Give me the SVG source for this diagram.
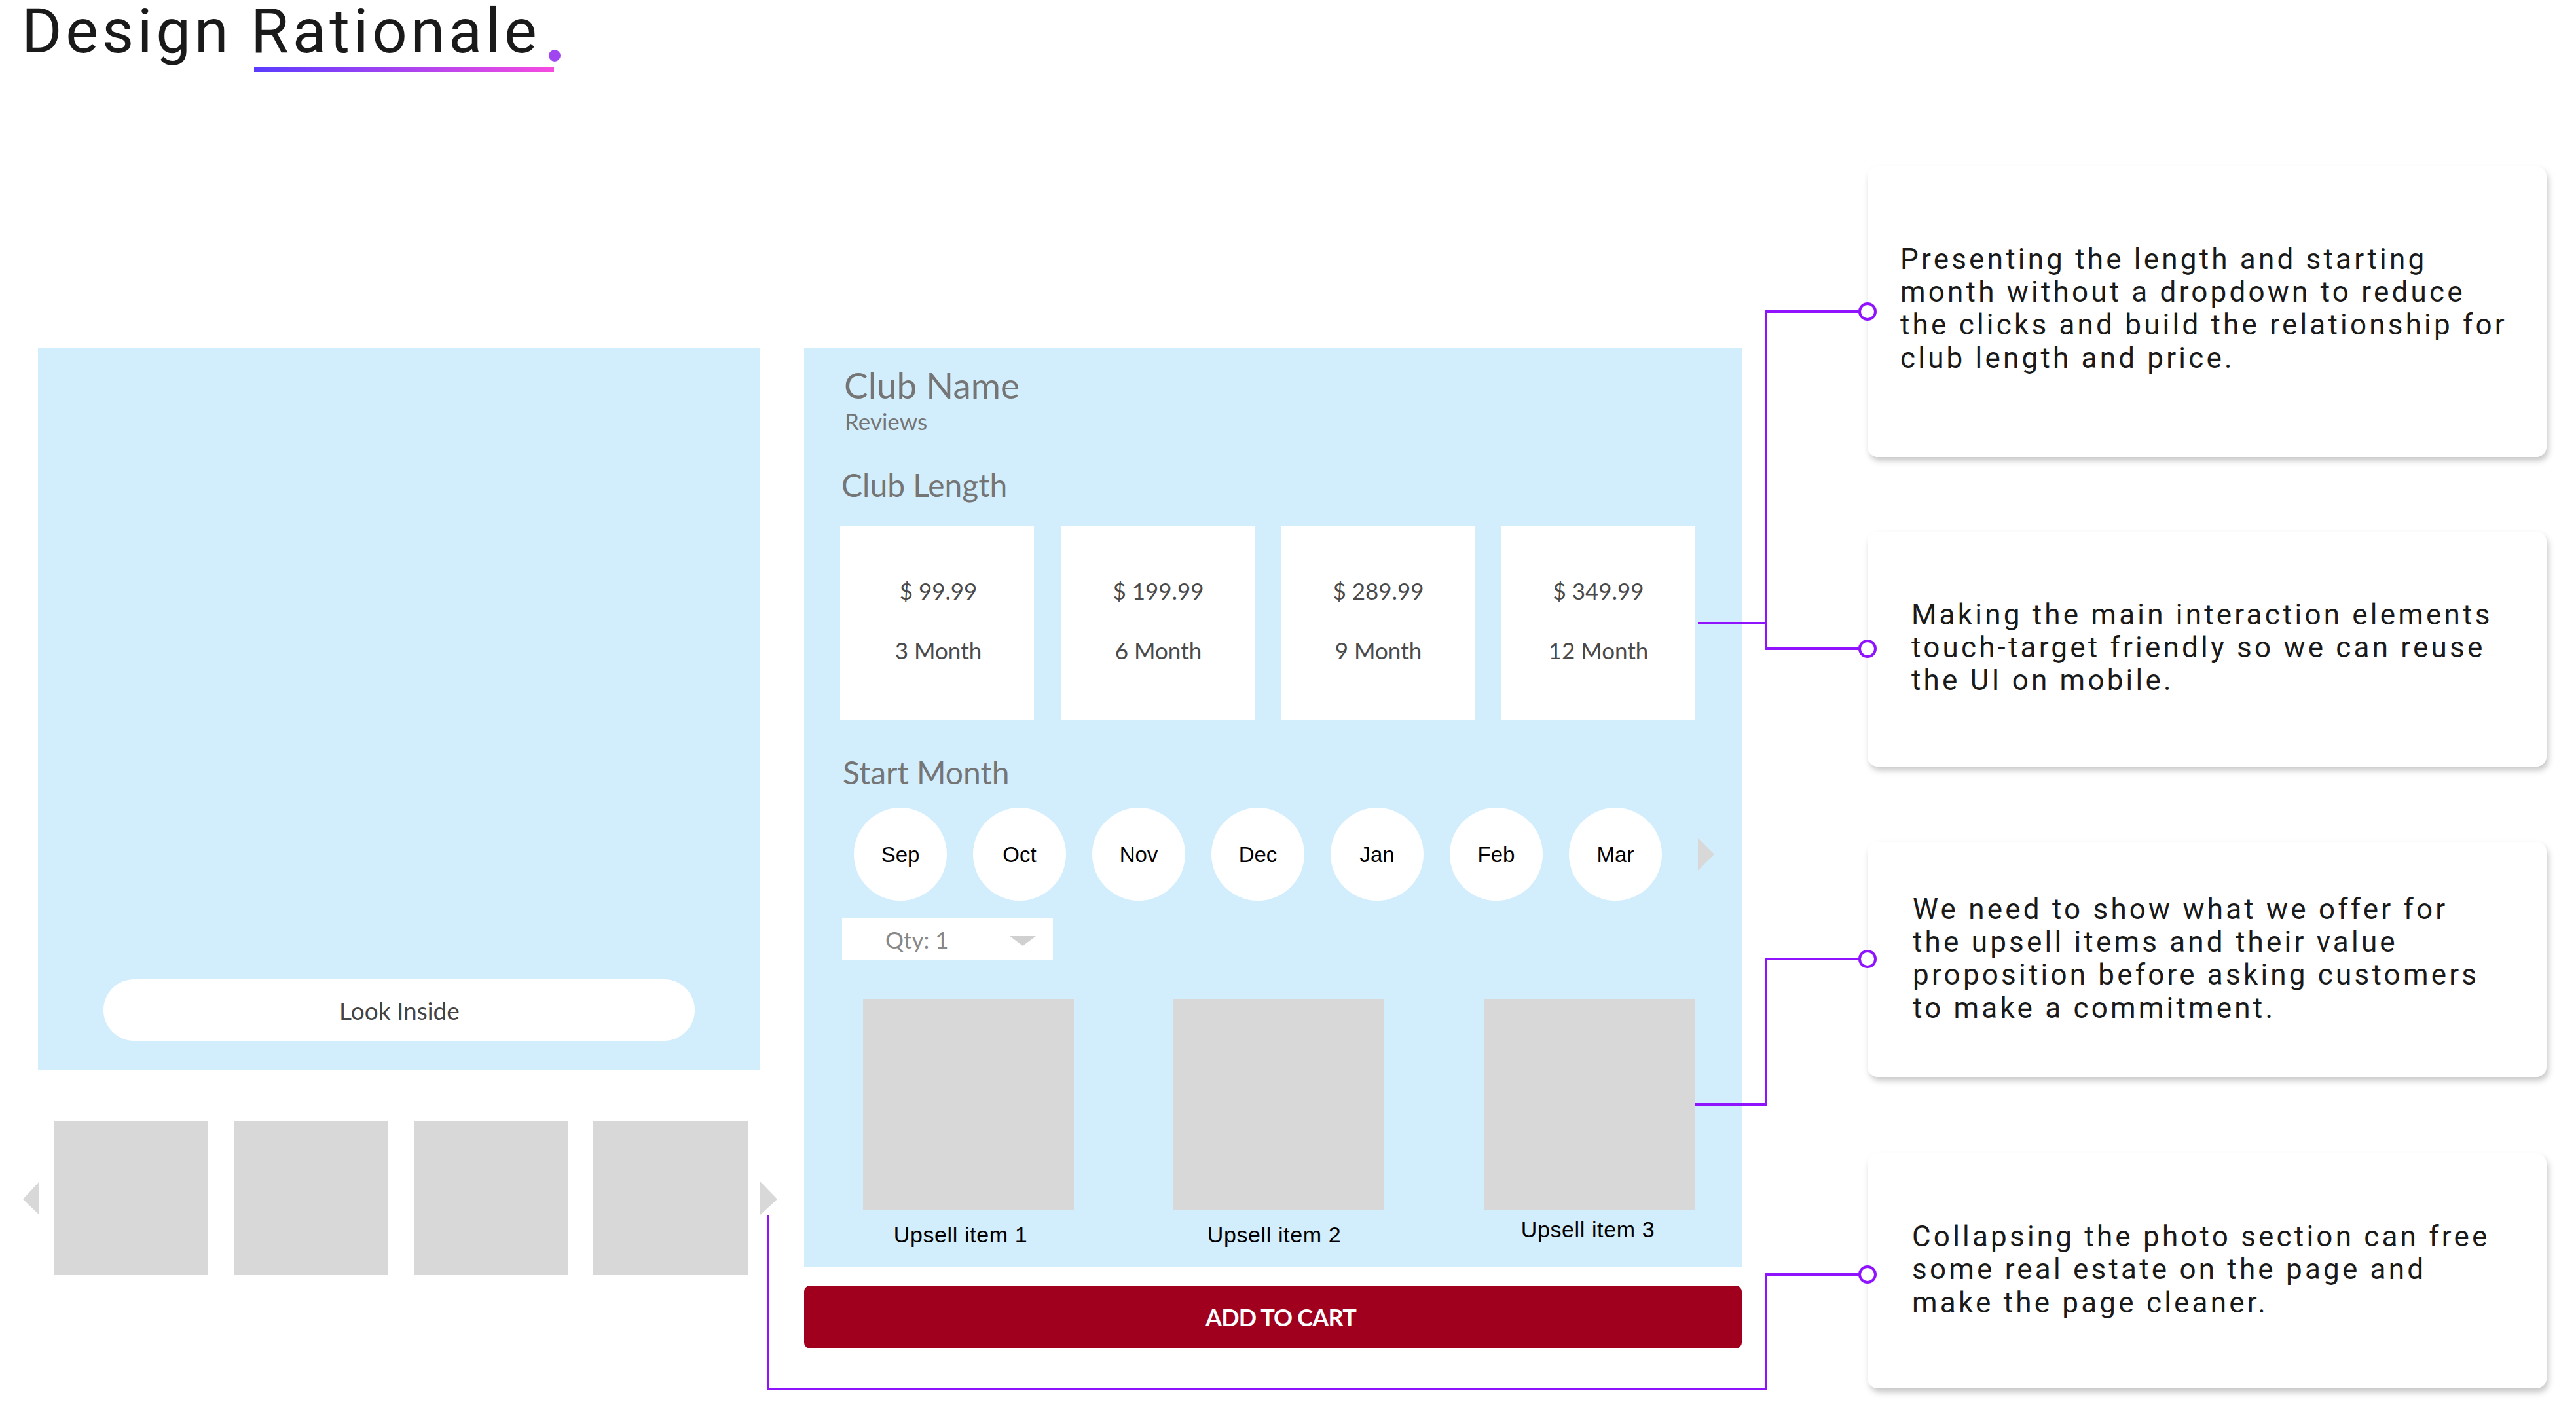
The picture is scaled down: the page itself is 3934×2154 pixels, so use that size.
<svg xmlns="http://www.w3.org/2000/svg" width="3934" height="2154" viewBox="0 0 3934 2154">
<defs>
<linearGradient id="ul" x1="0" y1="0" x2="1" y2="0">
<stop offset="0" stop-color="#5a3cff"/>
<stop offset="1" stop-color="#f64be0"/>
</linearGradient>
<filter id="sh" x="-5%" y="-5%" width="112%" height="115%">
<feDropShadow dx="3" dy="6" stdDeviation="5" flood-color="#000" flood-opacity="0.22"/>
</filter>
<style>
.bg{fill:#d2eefd}
.wh{fill:#ffffff}
.gr{fill:#d8d8d8}
.lato{font-family:Lato,"Liberation Sans",sans-serif}
.h1{font-size:55px;fill:#757575}
.h2{font-size:48px;fill:#757575}
.sub{font-size:35px;fill:#757575}
.price{font-size:35px;fill:#4a4a4a;text-anchor:middle}
.mon{font-family:"Liberation Sans",Arial,sans-serif;font-size:33px;fill:#000;text-anchor:middle}
.up{font-family:"Liberation Sans",Arial,sans-serif;font-size:34px;fill:#000;text-anchor:middle;letter-spacing:0.6px}
.note{font-family:Roboto,"Liberation Sans",sans-serif;font-size:44px;fill:#1a1a1a;letter-spacing:4.2px}
.con{fill:none;stroke:#9013fe;stroke-width:4}
.dot{fill:#fff;stroke:#9013fe;stroke-width:4}
</style>
</defs>
<rect width="3934" height="2154" fill="#fff"/>

<g id="title">
<text x="33" y="80" font-family="Roboto,'Liberation Sans',sans-serif" font-size="94" fill="#1a1a1a" letter-spacing="5.6">Design Rationale</text>
<circle cx="847" cy="85" r="9" fill="#a046f0"/>
<rect x="388" y="102" width="458" height="8" fill="url(#ul)"/>
</g>

<g id="photo-panel">
<rect class="bg" x="58" y="532" width="1103" height="1103"/>
<rect class="wh" x="158" y="1496" width="903" height="94" rx="47"/>
<text class="lato" x="610" y="1558" font-size="37" fill="#444" text-anchor="middle">Look Inside</text>
</g>

<g id="thumbnails">
<rect class="gr" x="82" y="1712" width="236" height="236"/>
<rect class="gr" x="357" y="1712" width="236" height="236"/>
<rect class="gr" x="632" y="1712" width="236" height="236"/>
<rect class="gr" x="906" y="1712" width="236" height="236"/>
<polygon class="gr" points="60,1805 60,1856 35,1832"/>
<polygon class="gr" points="1161,1805 1161,1856 1187,1832"/>
</g>

<g id="product-panel">
<rect class="bg" x="1228" y="532" width="1432" height="1404"/>
<text class="lato h1" x="1289" y="609">Club Name</text>
<text class="lato sub" x="1290" y="657">Reviews</text>
<text class="lato h2" x="1285" y="759">Club Length</text>
</g>

<g id="club-length">
<rect class="wh" x="1283" y="804" width="296" height="296"/>
<rect class="wh" x="1620" y="804" width="296" height="296"/>
<rect class="wh" x="1956" y="804" width="296" height="296"/>
<rect class="wh" x="2292" y="804" width="296" height="296"/>
<text class="lato price" x="1433" y="916">$ 99.99</text>
<text class="lato price" x="1433" y="1007">3 Month</text>
<text class="lato price" x="1769" y="916">$ 199.99</text>
<text class="lato price" x="1769" y="1007">6 Month</text>
<text class="lato price" x="2105" y="916">$ 289.99</text>
<text class="lato price" x="2105" y="1007">9 Month</text>
<text class="lato price" x="2441" y="916">$ 349.99</text>
<text class="lato price" x="2441" y="1007">12 Month</text>
</g>

<g id="start-month">
<text class="lato h2" x="1287" y="1198">Start Month</text>
<circle class="wh" cx="1375" cy="1305" r="71"/>
<circle class="wh" cx="1557" cy="1305" r="71"/>
<circle class="wh" cx="1739" cy="1305" r="71"/>
<circle class="wh" cx="1921" cy="1305" r="71"/>
<circle class="wh" cx="2103" cy="1305" r="71"/>
<circle class="wh" cx="2285" cy="1305" r="71"/>
<circle class="wh" cx="2467" cy="1305" r="71"/>
<text class="mon" x="1375" y="1317">Sep</text>
<text class="mon" x="1557" y="1317">Oct</text>
<text class="mon" x="1739" y="1317">Nov</text>
<text class="mon" x="1921" y="1317">Dec</text>
<text class="mon" x="2103" y="1317">Jan</text>
<text class="mon" x="2285" y="1317">Feb</text>
<text class="mon" x="2467" y="1317">Mar</text>
<polygon class="gr" points="2593,1280 2618,1305 2593,1330"/>
</g>

<g id="qty">
<rect class="wh" x="1286" y="1402" width="322" height="65"/>
<text class="lato" x="1352" y="1449" font-size="35" fill="#888">Qty: 1</text>
<polygon points="1542,1430 1582,1430 1562,1445" fill="#d0d0d0"/>
</g>

<g id="upsell">
<rect class="gr" x="1318" y="1526" width="322" height="322"/>
<rect class="gr" x="1792" y="1526" width="322" height="322"/>
<rect class="gr" x="2266" y="1526" width="322" height="322"/>
<text class="up" x="1467" y="1898">Upsell item 1</text>
<text class="up" x="1946" y="1898">Upsell item 2</text>
<text class="up" x="2425" y="1890">Upsell item 3</text>
</g>

<g id="add-to-cart">
<rect x="1228" y="1964" width="1432" height="96" rx="9" fill="#a0001e"/>
<text class="lato" x="1956" y="2026" font-size="36" font-weight="700" fill="#fff" text-anchor="middle" letter-spacing="-0.8">ADD TO CART</text>
</g>

<g id="note-1" filter="url(#sh)">
<rect class="wh" x="2852" y="254" width="1037" height="444" rx="16"/>
</g>
<text class="note" x="2902" y="411">Presenting the length and starting</text>
<text class="note" x="2902" y="461">month without a dropdown to reduce</text>
<text class="note" x="2902" y="511">the clicks and build the relationship for</text>
<text class="note" x="2902" y="562">club length and price.</text>

<g id="note-2" filter="url(#sh)">
<rect class="wh" x="2852" y="812" width="1037" height="359" rx="16"/>
</g>
<text class="note" x="2919" y="954">Making the main interaction elements</text>
<text class="note" x="2919" y="1004">touch-target friendly so we can reuse</text>
<text class="note" x="2919" y="1054">the UI on mobile.</text>

<g id="note-3" filter="url(#sh)">
<rect class="wh" x="2852" y="1286" width="1037" height="359" rx="16"/>
</g>
<text class="note" x="2921" y="1404">We need to show what we offer for</text>
<text class="note" x="2921" y="1454">the upsell items and their value</text>
<text class="note" x="2921" y="1504">proposition before asking customers</text>
<text class="note" x="2921" y="1555">to make a commitment.</text>

<g id="note-4" filter="url(#sh)">
<rect class="wh" x="2852" y="1762" width="1037" height="359" rx="16"/>
</g>
<text class="note" x="2920" y="1904">Collapsing the photo section can free</text>
<text class="note" x="2920" y="1954">some real estate on the page and</text>
<text class="note" x="2920" y="2005">make the page cleaner.</text>

<g id="connectors">
<polyline class="con" points="2593,952 2697,952"/>
<polyline class="con" points="2840,476 2697,476 2697,991 2840,991"/>
<polyline class="con" points="2588,1687 2697,1687 2697,1465 2840,1465"/>
<polyline class="con" points="2840,1947 2697,1947 2697,2122 1173,2122 1173,1856"/>
<circle class="dot" cx="2852" cy="476" r="12"/>
<circle class="dot" cx="2852" cy="991" r="12"/>
<circle class="dot" cx="2852" cy="1465" r="12"/>
<circle class="dot" cx="2852" cy="1947" r="12"/>
</g>
</svg>
